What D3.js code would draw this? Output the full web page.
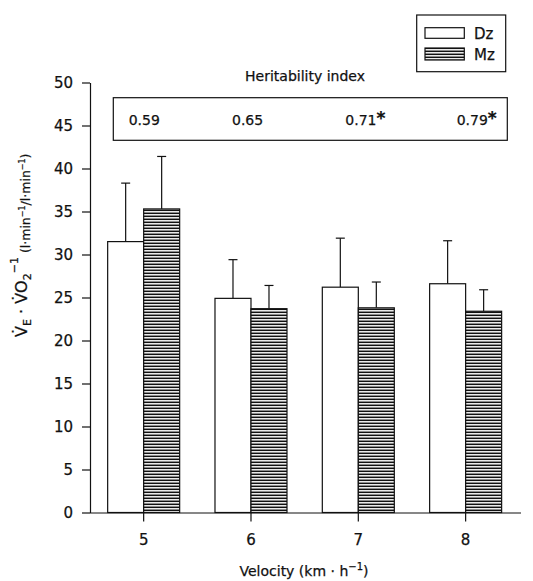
<!DOCTYPE html>
<html>
<head>
<meta charset="utf-8">
<script src="https://cdn.jsdelivr.net/npm/d3@7"></script>
<style>
  html, body { margin: 0; padding: 0; background: #fff; }
  svg { display: block; }
  text { font-family: "DejaVu Sans", "Liberation Sans", Arial, sans-serif; fill: #111; stroke: #111; stroke-width: 0.25; }
</style>
</head>
<body>
<svg id="chart" width="533" height="581"></svg>
<script>
// ---- data ----
const categories = ["5", "6", "7", "8"];
const seriesNames = ["Dz", "Mz"];
const dzMeans = [31.5, 24.9, 26.2, 26.6];
const dzSD = [6.8, 4.5, 5.7, 5.0];
const mzMeans = [35.3, 23.7, 23.8, 23.4];
const mzSD = [6.1, 2.7, 3.0, 2.5];
const heritability = ["0.59", "0.65", "0.71", "0.79"];
const significant = [false, false, true, true];
const yTicks = [0, 5, 10, 15, 20, 25, 30, 35, 40, 45, 50];

// ---- layout ----
const svg = d3.select("#chart");
const x0 = 90, x1 = 519.3, yBottom = 512.5, yTop = 82.5;
const barW = 36;

const x = d3.scaleBand().domain(categories).range([x0, x1]).padding(0);
const y = d3.scaleLinear().domain([0, 50]).range([yBottom, yTop]);

// hatch pattern
const defs = svg.append("defs");
const pat = defs.append("pattern").attr("id", "hatch")
  .attr("patternUnits", "userSpaceOnUse").attr("width", 6).attr("height", 3);
pat.append("rect").attr("width", 6).attr("height", 3).attr("fill", "#8c8c8c");
pat.append("rect").attr("y", 0).attr("width", 6).attr("height", 1).attr("fill", "#111");
pat.append("rect").attr("y", 1).attr("width", 6).attr("height", 1).attr("fill", "#eaeaea");

const cx = c => x(c) + x.bandwidth() / 2;

const series = [
  { name: "Dz", means: dzMeans, sd: dzSD, off: -barW, fill: "#fff" },
  { name: "Mz", means: mzMeans, sd: mzSD, off: 0, fill: "url(#hatch)" }
];

// error bars (behind bars)
series.forEach(s => {
  const g = svg.append("g").attr("stroke", "#111").attr("stroke-width", 1.2);
  categories.forEach((c, i) => {
    const bx = cx(c) + s.off + barW / 2;
    g.append("line").attr("x1", bx).attr("x2", bx)
      .attr("y1", y(s.means[i])).attr("y2", y(s.means[i] + s.sd[i]));
    g.append("line").attr("x1", bx - 4.5).attr("x2", bx + 4.5)
      .attr("y1", y(s.means[i] + s.sd[i])).attr("y2", y(s.means[i] + s.sd[i]));
  });
});

// bars
series.forEach(s => {
  svg.append("g").selectAll("rect").data(categories).join("rect")
    .attr("x", c => cx(c) + s.off)
    .attr("y", (c, i) => y(s.means[i]))
    .attr("width", barW)
    .attr("height", (c, i) => yBottom - y(s.means[i]))
    .attr("fill", s.fill)
    .attr("stroke", "#111").attr("stroke-width", 1.2);
});

// y axis
const yAxis = svg.append("g").attr("transform", `translate(${x0},0)`)
  .call(d3.axisLeft(y).tickValues(yTicks).tickSize(8).tickPadding(9).tickSizeOuter(0));
yAxis.selectAll("text").attr("font-size", 15).attr("font-family", "DejaVu Sans").attr("fill", "#111");
yAxis.selectAll("line,path").attr("stroke", "#111").attr("stroke-width", 1.2);

// x axis
const xAxis = svg.append("g").attr("transform", `translate(0,${yBottom})`)
  .call(d3.axisBottom(x).tickSize(9).tickPadding(13).tickSizeOuter(0));
xAxis.select("path").attr("d", `M${x0},0.5H521`);
xAxis.selectAll("text").attr("font-size", 15).attr("font-family", "DejaVu Sans").attr("fill", "#111");
xAxis.selectAll("line,path").attr("stroke", "#111").attr("stroke-width", 1.2);

// x label
const xl = svg.append("text").attr("x", 304).attr("y", 576).attr("text-anchor", "middle").attr("font-size", 14);
xl.append("tspan").text("Velocity (km · h");
xl.append("tspan").attr("dy", -6).attr("font-size", 10).text("−1");
xl.append("tspan").attr("dy", 6).text(")");

// y label
const yl = svg.append("text").attr("transform", "translate(27,337) rotate(-90)").attr("font-size", 16);
yl.append("tspan").text("V\u0307");
yl.append("tspan").attr("dy", 4).attr("font-size", 11).text("E");
yl.append("tspan").attr("dy", -4).text(" · V\u0307O");
yl.append("tspan").attr("dy", 4).attr("font-size", 11).text("2");
yl.append("tspan").attr("dy", -13).attr("font-size", 11).text("−1");
yl.append("tspan").attr("dy", 12).attr("font-size", 12.5).text("  (l·min");
yl.append("tspan").attr("dy", -5).attr("font-size", 8).text("−1");
yl.append("tspan").attr("dy", 5).attr("font-size", 12.5).text("/l·min");
yl.append("tspan").attr("dy", -5).attr("font-size", 8).text("−1");
yl.append("tspan").attr("dy", 5).attr("font-size", 12.5).text(")");

// heritability box
svg.append("text").attr("x", 305).attr("y", 81).attr("text-anchor", "middle").attr("font-size", 14)
  .text("Heritability index");
svg.append("rect").attr("x", 113.3).attr("y", 97.7).attr("width", 394).attr("height", 42.6)
  .attr("fill", "none").attr("stroke", "#111").attr("stroke-width", 1.2);
const hOff = [-15, -19, -13, -9];
categories.forEach((c, i) => {
  const t = svg.append("text").attr("x", cx(c) + hOff[i]).attr("y", 125).attr("font-size", 14);
  t.append("tspan").text(heritability[i]);
  if (significant[i]) t.append("tspan").attr("font-size", 17).attr("font-weight", "bold").attr("dy", -1).text("*");
});

// legend
const lg = svg.append("g");
lg.append("rect").attr("x", 416.7).attr("y", 15).attr("width", 89).attr("height", 56.7)
  .attr("fill", "#fff").attr("stroke", "#111").attr("stroke-width", 1.2);
const legY = [27.7, 48];
series.forEach((s, i) => {
  lg.append("rect").attr("x", 425).attr("y", legY[i]).attr("width", 39.3).attr("height", i === 0 ? 10.6 : 12)
    .attr("fill", s.fill).attr("stroke", "#111").attr("stroke-width", 1.2);
  lg.append("text").attr("x", 474).attr("y", legY[i] + (i === 0 ? 10.8 : 12)).attr("font-size", 15).text(seriesNames[i]);
});
</script>
</body>
</html>
